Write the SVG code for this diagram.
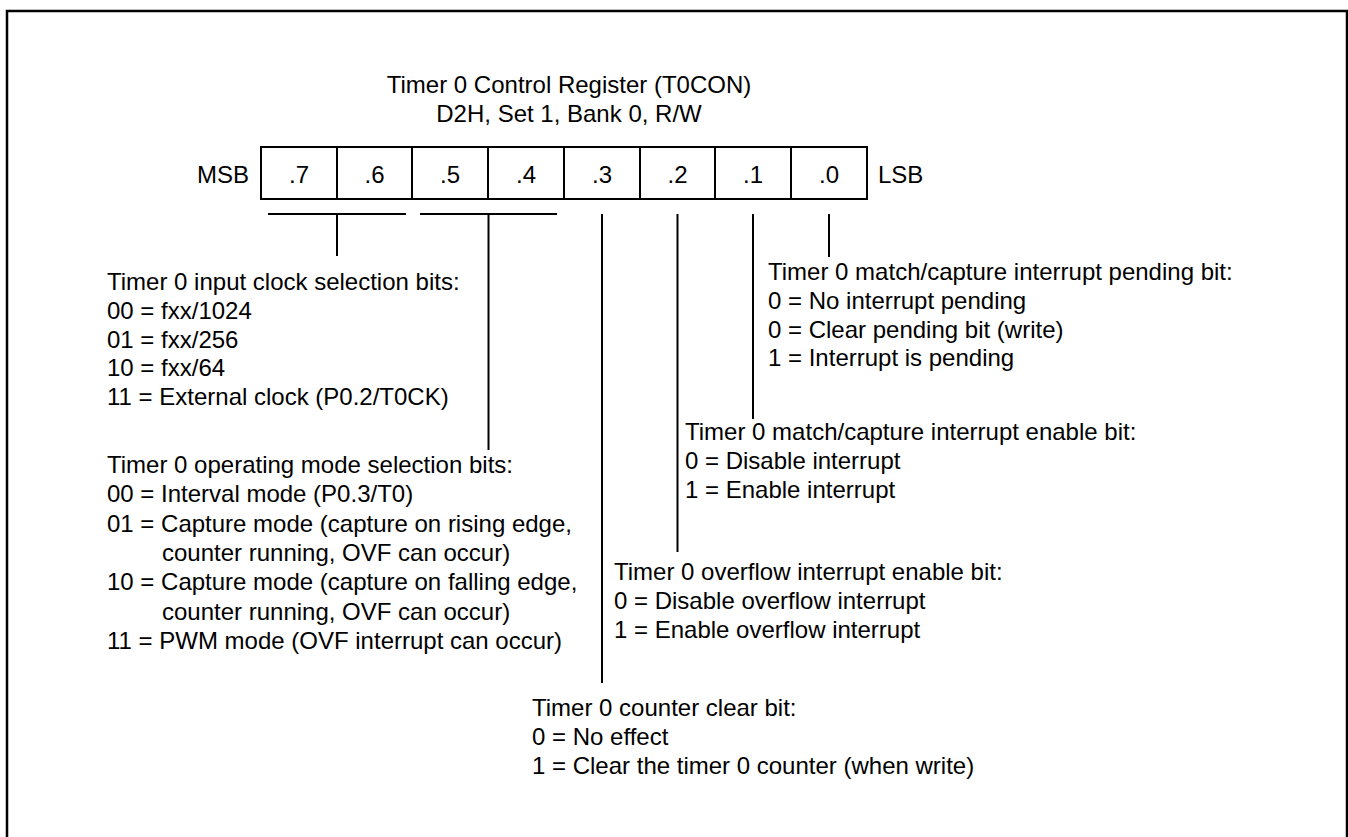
<svg xmlns="http://www.w3.org/2000/svg" width="1348" height="837" viewBox="0 0 1348 837">
<style>
text{font-family:"Liberation Sans",Arial,sans-serif;font-size:24px;fill:#000}
.c{text-anchor:middle}
.e{text-anchor:end}
.ln{stroke:#000;stroke-width:2;fill:none}
</style>
<rect x="0" y="0" width="1348" height="837" fill="#fff"/>
<rect x="7" y="11" width="1340" height="900" fill="none" stroke="#000" stroke-width="2.5"/>
<g id="title">
<text class="c" x="569" y="93">Timer 0 Control Register (T0CON)</text>
<text class="c" x="569" y="122">D2H, Set 1, Bank 0, R/W</text>
</g>
<g id="register">
<text class="e" x="249" y="183">MSB</text>
<rect x="261" y="147" width="606" height="52" class="ln"/>
<path class="ln" d="M337 147V199M412 147V199M488 147V199M564 147V199M640 147V199M715 147V199M791 147V199"/>
<text class="c" x="299" y="183">.7</text>
<text class="c" x="374.5" y="183">.6</text>
<text class="c" x="450" y="183">.5</text>
<text class="c" x="526" y="183">.4</text>
<text class="c" x="602" y="183">.3</text>
<text class="c" x="677.5" y="183">.2</text>
<text class="c" x="753" y="183">.1</text>
<text class="c" x="829" y="183">.0</text>
<text x="878" y="183">LSB</text>
</g>
<g id="connectors">
<path class="ln" d="M268 214H406M337 214V256"/>
<path class="ln" d="M420 214H557M488.5 214V450"/>
<path class="ln" d="M602 214V683"/>
<path class="ln" d="M677.5 214V552"/>
<path class="ln" d="M753 214V419"/>
<path class="ln" d="M829 214V257"/>
</g>
<g id="clock-bits">
<text x="107" y="290">Timer 0 input clock selection bits:</text>
<text x="107" y="318.75">00 = fxx/1024</text>
<text x="107" y="347.5">01 = fxx/256</text>
<text x="107" y="376.25">10 = fxx/64</text>
<text x="107" y="405">11 = External clock (P0.2/T0CK)</text>
</g>
<g id="mode-bits">
<text x="107" y="473">Timer 0 operating mode selection bits:</text>
<text x="107" y="502.3">00 = Interval mode (P0.3/T0)</text>
<text x="107" y="531.6">01 = Capture mode (capture on rising edge,</text>
<text x="162" y="560.9">counter running, OVF can occur)</text>
<text x="107" y="590.2">10 = Capture mode (capture on falling edge,</text>
<text x="162" y="619.5">counter running, OVF can occur)</text>
<text x="107" y="648.8">11 = PWM mode (OVF interrupt can occur)</text>
</g>
<g id="pending-bit">
<text x="768" y="280">Timer 0 match/capture interrupt pending bit:</text>
<text x="768" y="308.8">0 = No interrupt pending</text>
<text x="768" y="337.6">0 = Clear pending bit (write)</text>
<text x="768" y="366.4">1 = Interrupt is pending</text>
</g>
<g id="enable-bit">
<text x="685" y="440">Timer 0 match/capture interrupt enable bit:</text>
<text x="685" y="469">0 = Disable interrupt</text>
<text x="685" y="498">1 = Enable interrupt</text>
</g>
<g id="overflow-bit">
<text x="614" y="580">Timer 0 overflow interrupt enable bit:</text>
<text x="614" y="609">0 = Disable overflow interrupt</text>
<text x="614" y="638">1 = Enable overflow interrupt</text>
</g>
<g id="clear-bit">
<text x="532" y="716">Timer 0 counter clear bit:</text>
<text x="532" y="745">0 = No effect</text>
<text x="532" y="774">1 = Clear the timer 0 counter (when write)</text>
</g>
</svg>
